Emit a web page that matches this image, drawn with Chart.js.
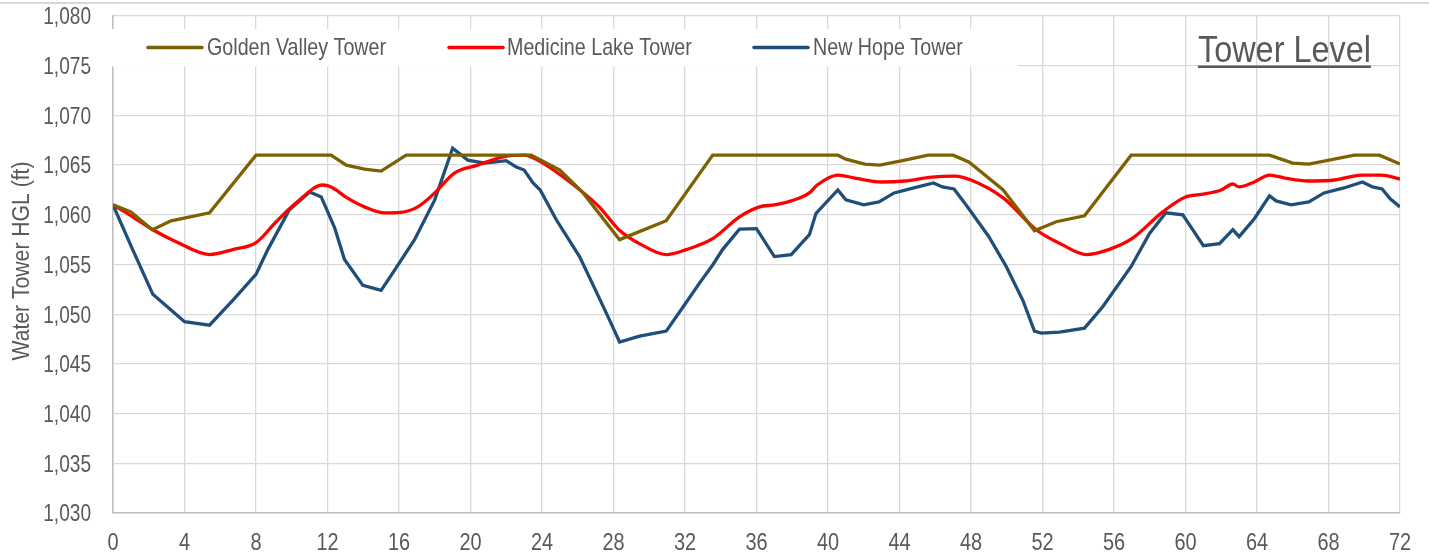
<!DOCTYPE html>
<html>
<head>
<meta charset="utf-8">
<script src="https://cdn.jsdelivr.net/npm/chart.js@4.4.1/dist/chart.umd.min.js"></script>
<style>
  html, body { margin: 0; padding: 0; background: #fff; }
  canvas { display: block; }
</style>
</head>
<body>
<canvas id="chart" width="1429" height="554"></canvas>
<script>
// Golden Valley Tower
const gvHours = [0, 1.0, 2.2, 3.25, 5.4, 8, 12.2, 13.05, 14.07, 15, 16.4, 23.4, 25.0, 26.3, 28.34, 30.95, 33.55,
  40.55, 41, 42.05, 42.9, 44.3, 45.6, 47, 47.9, 49.8, 51.55, 52.77, 54.35, 56.96, 64.7, 66, 66.9, 69.45, 70.85, 72];
const gvLevel = [1061.0, 1060.3, 1058.5, 1059.4, 1060.2, 1066, 1066, 1065.0, 1064.6, 1064.4, 1066, 1066, 1064.5, 1062.2, 1057.5, 1059.4, 1066,
  1066, 1065.6, 1065.1, 1065.0, 1065.5, 1066, 1066, 1065.3, 1062.5, 1058.4, 1059.3, 1059.9, 1066, 1066, 1065.2, 1065.1, 1066, 1066, 1065.1];

// Medicine Lake Tower
const mlHours = [0, 0.92, 2.23, 3.53, 5.4, 6.7, 8.0, 9.13, 10.25, 11.74, 12.2, 13.1, 14.07, 15.2, 16.1, 17.05, 18.0, 19.1, 20.4, 21.9, 23.0,
  23.86, 25.7, 27.2, 28.3, 29.45, 30.95, 32.07, 33.55, 35.05, 36.17, 37.0, 37.94, 38.96, 39.4, 40.55, 41.5, 43.0, 44.3, 45.8, 47.1,
  48.0, 49.8, 51.65, 53.1, 54.45, 55.7, 57.0, 58.73, 60.0, 60.9, 62.0, 62.65, 63.0, 63.85, 64.7, 65.55, 66.85, 68.35, 69.85, 70.95, 72];
const mlLevel = [1061.0, 1060.0, 1058.5, 1057.3, 1056.0, 1056.5, 1057.2, 1059.3, 1061.2, 1063.0, 1062.8, 1061.7, 1060.8, 1060.2, 1060.25, 1060.8, 1062.2, 1064.2, 1065.0, 1065.85, 1066.0,
  1065.4, 1063.1, 1060.8, 1058.5, 1057.1, 1056.0, 1056.5, 1057.6, 1059.8, 1060.8, 1061.0, 1061.4, 1062.2, 1063.0, 1064.0, 1063.7, 1063.3, 1063.4, 1063.8, 1063.9,
  1063.5, 1061.7, 1058.5, 1057.0, 1056.0, 1056.5, 1057.6, 1060.3, 1061.8, 1062.05, 1062.5, 1063.1, 1062.8, 1063.3, 1064.0, 1063.7, 1063.4, 1063.5, 1064.0, 1064.0, 1063.6];

// New Hope Tower
const nhHours = [0, 1.1, 2.23, 4.0, 5.4, 6.7, 8.0, 8.66, 9.87, 11.0, 11.65, 12.4, 12.95, 13.98, 15.0, 15.56, 16.87, 18.0, 19.0, 19.85, 20.8,
  22.0, 22.56, 23.0, 23.5, 23.9, 24.8, 26.1, 27.0, 27.78, 28.34, 29.46, 30.95, 31.9, 32.8, 33.55, 34.1, 35.05, 36.0, 37.0, 37.94,
  38.96, 39.33, 40.55, 41.0, 42.0, 42.85, 43.7, 44.8, 45.9, 46.4, 47.05, 47.6, 48.2, 49.0, 49.97, 50.9, 51.55, 51.93, 52.95, 54.35,
  55.37, 56.96, 57.98, 58.9, 59.85, 60.4, 61.0, 61.9, 62.65, 63.0, 63.85, 64.7, 65.07, 65.9, 66.9, 67.75, 68.86, 69.9, 70.46, 71.0, 71.45, 72];
const nhLevel = [1061.0, 1056.5, 1052.0, 1049.25, 1048.9, 1051.4, 1054.0, 1056.5, 1060.5, 1062.3, 1061.8, 1058.7, 1055.5, 1052.9, 1052.4, 1053.9, 1057.5, 1061.5, 1066.7, 1065.5, 1065.2,
  1065.45, 1064.8, 1064.5, 1063.2, 1062.5, 1059.5, 1055.8, 1052.4, 1049.4, 1047.2, 1047.8, 1048.3, 1050.75, 1053.1, 1054.95, 1056.5, 1058.55, 1058.6, 1055.8, 1056.0,
  1058.0, 1060.15, 1062.5, 1061.5, 1061.0, 1061.3, 1062.2, 1062.7, 1063.2, 1062.8, 1062.6, 1061.3, 1059.8, 1057.8, 1054.8, 1051.4, 1048.3, 1048.1, 1048.2, 1048.6,
  1050.75, 1054.8, 1058.1, 1060.2, 1060.0, 1058.5, 1056.9, 1057.1, 1058.5, 1057.8, 1059.6, 1061.9, 1061.4, 1061.0, 1061.3, 1062.2, 1062.7, 1063.3, 1062.8, 1062.6, 1061.6, 1060.8];

const seriesNames = ['Golden Valley Tower', 'Medicine Lake Tower', 'New Hope Tower'];
const chartTitle = 'Tower Level';
const yTitle = 'Water Tower HGL (ft)';
const xMin = 0, xMax = 72, xStep = 4;
const yMin = 1030, yMax = 1080, yStep = 5;

const FONT = "'Liberation Sans', Arial, sans-serif";
const TEXT = '#595959';

const pts = (xs, ys) => xs.map((x, i) => ({ x: x, y: ys[i] }));

// pas de police etroite installee : on comprime a la largeur (style Arial Narrow)
function narrowText(c, txt, x, y, ratio) {
  c.fillText(txt, x, y, c.measureText(txt).width * ratio);
}

// fond blanc + filet gris en haut
const backdrop = {
  id: 'backdrop',
  beforeDraw(chart) {
    const c = chart.ctx;
    c.save();
    c.fillStyle = '#fff';
    c.fillRect(0, 0, chart.width, chart.height);
    c.fillStyle = '#D9D9D9';
    c.fillRect(0, 2, chart.width, 2);
    c.restore();
  }
};

// etiquettes des axes, legende dans un cadre blanc, titre souligne
const labels = {
  id: 'labels',
  afterDraw(chart) {
    const c = chart.ctx;
    const xs = chart.scales.x, ys = chart.scales.y;
    c.save();
    c.fillStyle = TEXT;
    c.textBaseline = 'alphabetic';

    c.font = '23px ' + FONT;
    c.textAlign = 'right';
    ys.ticks.forEach(t => {
      narrowText(c, t.value.toLocaleString('en-US'), 91, ys.getPixelForValue(t.value) + 8.3, 0.83);
    });
    c.font = '24px ' + FONT;
    c.textAlign = 'center';
    xs.ticks.forEach(t => {
      narrowText(c, String(t.value), xs.getPixelForValue(t.value), 549.5, 0.83);
    });

    c.save();
    c.translate(29, 261);
    c.rotate(-Math.PI / 2);
    c.font = '23px ' + FONT;
    narrowText(c, yTitle, 0, 0, 0.92);
    c.restore();

    c.fillStyle = '#fff';
    c.fillRect(88.5, 29, 929.5, 37.5);

    const slots = [[148, 202, 207], [449, 503, 507], [754, 808, 813]];
    c.textAlign = 'left';
    chart.data.datasets.forEach((ds, i) => {
      const s = slots[i];
      c.strokeStyle = ds.borderColor;
      c.lineWidth = 3.5;
      c.lineCap = 'round';
      c.beginPath();
      c.moveTo(s[0], 47.5);
      c.lineTo(s[1], 47.5);
      c.stroke();
      c.fillStyle = TEXT;
      c.font = '24px ' + FONT;
      narrowText(c, ds.label, s[2], 55.3, 0.82);
    });

    c.font = '36px ' + FONT;
    c.fillStyle = TEXT;
    const w = c.measureText(chartTitle).width * 0.9;
    narrowText(c, chartTitle, 1198, 62.3, 0.9);
    c.fillRect(1198, 65.5, w, 2.5);
    c.restore();
  }
};

new Chart(document.getElementById('chart'), {
  type: 'line',
  data: {
    datasets: [
      { label: seriesNames[0], data: pts(gvHours, gvLevel), borderColor: '#7F6000', borderWidth: 3.3, pointRadius: 0, tension: 0 },
      { label: seriesNames[1], data: pts(mlHours, mlLevel), borderColor: '#FF0000', borderWidth: 3.3, pointRadius: 0, cubicInterpolationMode: 'monotone' },
      { label: seriesNames[2], data: pts(nhHours, nhLevel), borderColor: '#1F4E79', borderWidth: 3.3, pointRadius: 0, tension: 0 }
    ]
  },
  options: {
    responsive: false,
    animation: false,
    layout: { padding: { top: 16, right: 29, bottom: 0, left: 0 } },
    plugins: { legend: { display: false }, tooltip: { enabled: false } },
    scales: {
      x: {
        type: 'linear',
        min: xMin, max: xMax,
        afterFit: s => { s.height = 41; s.paddingLeft = 0; s.paddingRight = 0; },
        ticks: { stepSize: xStep, display: false },
        grid: { color: '#D9D9D9', lineWidth: 1.3, drawTicks: false },
        border: { color: '#BFBFBF', width: 1.5 }
      },
      y: {
        min: yMin, max: yMax,
        afterFit: s => { s.width = 113; s.paddingTop = 0; s.paddingBottom = 0; },
        ticks: { stepSize: yStep, display: false },
        grid: { color: '#D9D9D9', lineWidth: 1.3, drawTicks: false },
        border: { color: '#BFBFBF', width: 1.5 }
      }
    }
  },
  plugins: [backdrop, labels]
});
</script>
</body>
</html>
